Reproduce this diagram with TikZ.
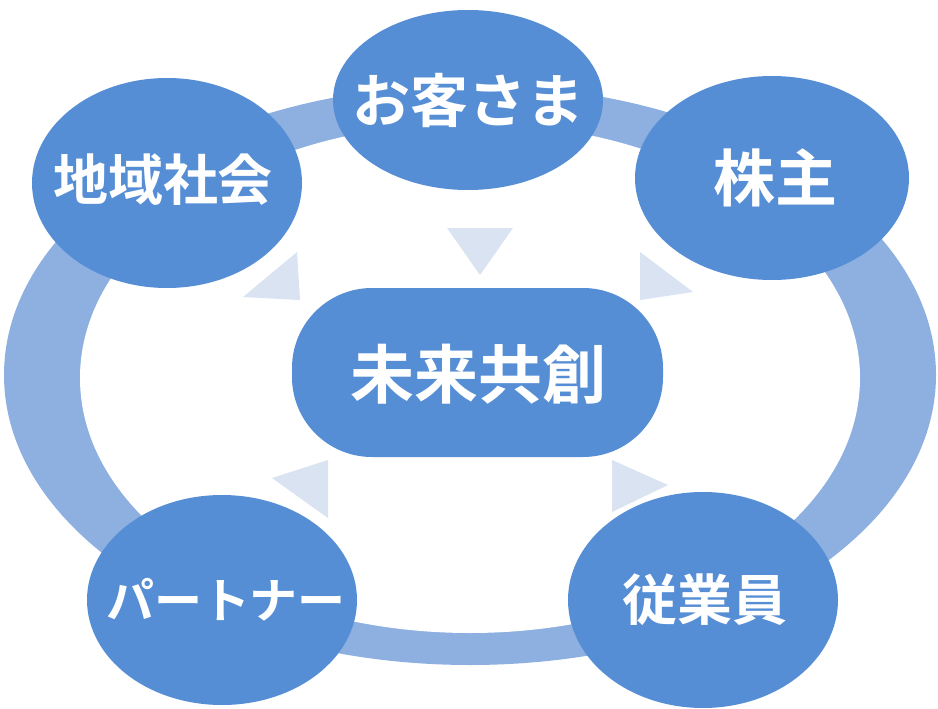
\documentclass[tikz,border=0pt]{standalone}
\usepackage{fontspec}
\newfontfamily\jp{Noto Sans CJK JP Bold}
\definecolor{nodeblue}{HTML}{558ED5}
\definecolor{ringblue}{HTML}{8EB0E0}
\definecolor{tri}{HTML}{DAE3F1}
\begin{document}
\begin{tikzpicture}[x=1pt,y=-1pt,
  bub/.style={fill=nodeblue,draw=none},
  lbl/.style={text=white,font=\jp\fontsize{55}{60}\selectfont,inner sep=0pt},
  arr/.style={fill=tri,draw=none}]
\useasboundingbox (0,0) rectangle (938,709);
\fill[ringblue] (470,375) ellipse [x radius=466, y radius=290];
\fill[white] (470,378) ellipse [x radius=390, y radius=255];
\fill[bub] (468,100) ellipse [x radius=135, y radius=90];
\fill[bub] (167,183) ellipse [x radius=135, y radius=105];
\fill[bub] (772,178) ellipse [x radius=137, y radius=102];
\fill[bub] (222,600) ellipse [x radius=135, y radius=105];
\fill[bub] (703,600) ellipse [x radius=135, y radius=108];
\fill[bub,rounded corners=80pt] (292,288) rectangle (663,457);
\node[lbl,font=\jp\fontsize{58}{62}\selectfont] (cust) at (468,100) {お客さま};
\node[lbl] (comm) at (163,180) {地域社会};
\node[lbl,font=\jp\fontsize{62}{66}\selectfont] (share) at (775,178) {株主};
\node[lbl,font=\jp\fontsize{48}{52}\selectfont] (part) at (226,600) {パートナー};
\node[lbl] (emp) at (705,600) {従業員};
\node[lbl,font=\jp\fontsize{64}{70}\selectfont] (core) at (478,374) {未来共創};
\fill[arr] (447,228) -- (513,228) -- (480,275) -- cycle;
\fill[arr] (243,297) -- (297,252) -- (300,300) -- cycle;
\fill[arr] (640,252) -- (640,300) -- (693,292) -- cycle;
\fill[arr] (272,478) -- (328,460) -- (328,518) -- cycle;
\fill[arr] (612,460) -- (612,512) -- (668,485) -- cycle;
\end{tikzpicture}
\end{document}
